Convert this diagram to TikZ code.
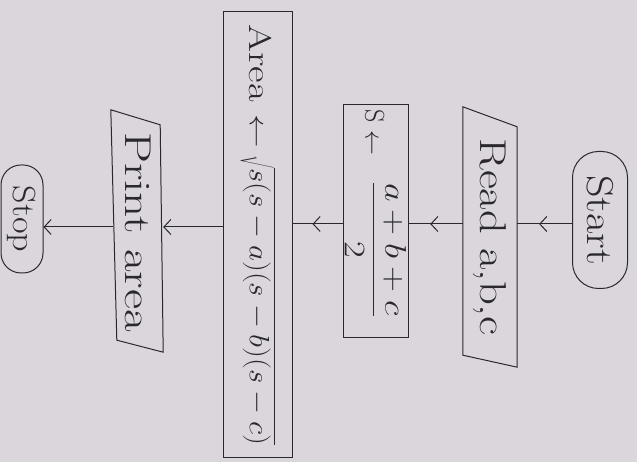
\documentclass[tikz,border=0pt]{standalone}
\usepackage{fontspec}
\usepackage{graphicx}
\usetikzlibrary{arrows.meta,decorations.markings,calc}
\definecolor{paper}{RGB}{218,214,220}
\definecolor{ink}{RGB}{42,40,46}
\newcommand{\rtxt}[2]{\rotatebox{-90}{\fontsize{#1}{#1}\selectfont #2}}
\begin{document}
\begin{tikzpicture}[x=1pt,y=1pt,
  lineink/.style={draw=ink, line width=1pt},
  term/.style={lineink, text=ink, inner sep=0pt},
  proc/.style={lineink, text=ink, inner sep=0pt},
  iobox/.style={text=ink, inner sep=0pt},
  midarr/.style={lineink, postaction={decorate}, decoration={markings, mark=at position 0.6 with {\arrow{Straight Barb[length=7pt,width=15pt,line width=1pt]}}}},
  endarr/.style={lineink, -{Straight Barb[length=7pt,width=15pt,line width=1pt]}},
]
\fill[paper] (0,0) rectangle (637,462);
\useasboundingbox (0,0) rectangle (637,462);
\coordinate (axis) at (320,238);
\coordinate (axisb) at (120,235);

\node[term, rounded corners=26pt, minimum width=55pt, minimum height=137pt] (start) at (600,242)
  {\rtxt{34}{\scalebox{1.3}[1.1]{Start}}};

\node[iobox, minimum width=54pt, minimum height=250pt] (read) at (490,225)
  {\rtxt{34}{\scalebox{1.37}[1.1]{Read a,b,c}}};
\draw[lineink] ($(read.north west)+(0,5)$) -- ($(read.north east)+(0,-15)$) -- ($(read.south east)+(0,-5)$) -- ($(read.south west)+(0,7)$) -- cycle;

\node[proc, minimum width=65pt, minimum height=233pt] (s) at (375.5,240.5)
  {\rtxt{26}{\scalebox{1.0}[1.05]{S $\leftarrow$}\hspace{26pt}\scalebox{1.45}[1.2]{$\displaystyle\frac{a+b+c}{2}$}\hspace{16pt}}};

\node[proc, minimum width=69pt, minimum height=446pt] (area) at (257.5,227)
  {\rtxt{30}{\scalebox{1.35}[1.05]{Area $\leftarrow$}\hspace{8pt}\scalebox{1.24}[1.12]{$\sqrt{s(s-a)(s-b)(s-c)}$}}};

\node[iobox, minimum width=50pt, minimum height=228pt] (print) at (138,230)
  {\rtxt{34}{\scalebox{1.45}[1.1]{Print area}}};
\draw[lineink] ($(print.north west)+(-2,8)$) -- ($(print.north east)+(-3,-7)$) -- ($(print.south east)+(0,-6)$) -- ($(print.south west)+(4,6)$) -- cycle;

\node[term, rounded corners=20pt, minimum width=42pt, minimum height=108pt] (stop) at (22,243)
  {\rtxt{32}{\scalebox{1.13}[1.0]{Stop}}};

\draw[midarr] (start.west |- axis) -- (read.east |- axis);
\draw[midarr] (read.west |- axis) -- (s.east |- axis);
\draw[midarr] (s.west |- axis) -- (area.east |- axis);
\draw[endarr] (area.west |- axisb) -- (print.east |- axisb);
\draw[endarr] (print.west |- axisb) -- (stop.east |- axisb);
\end{tikzpicture}
\end{document}
